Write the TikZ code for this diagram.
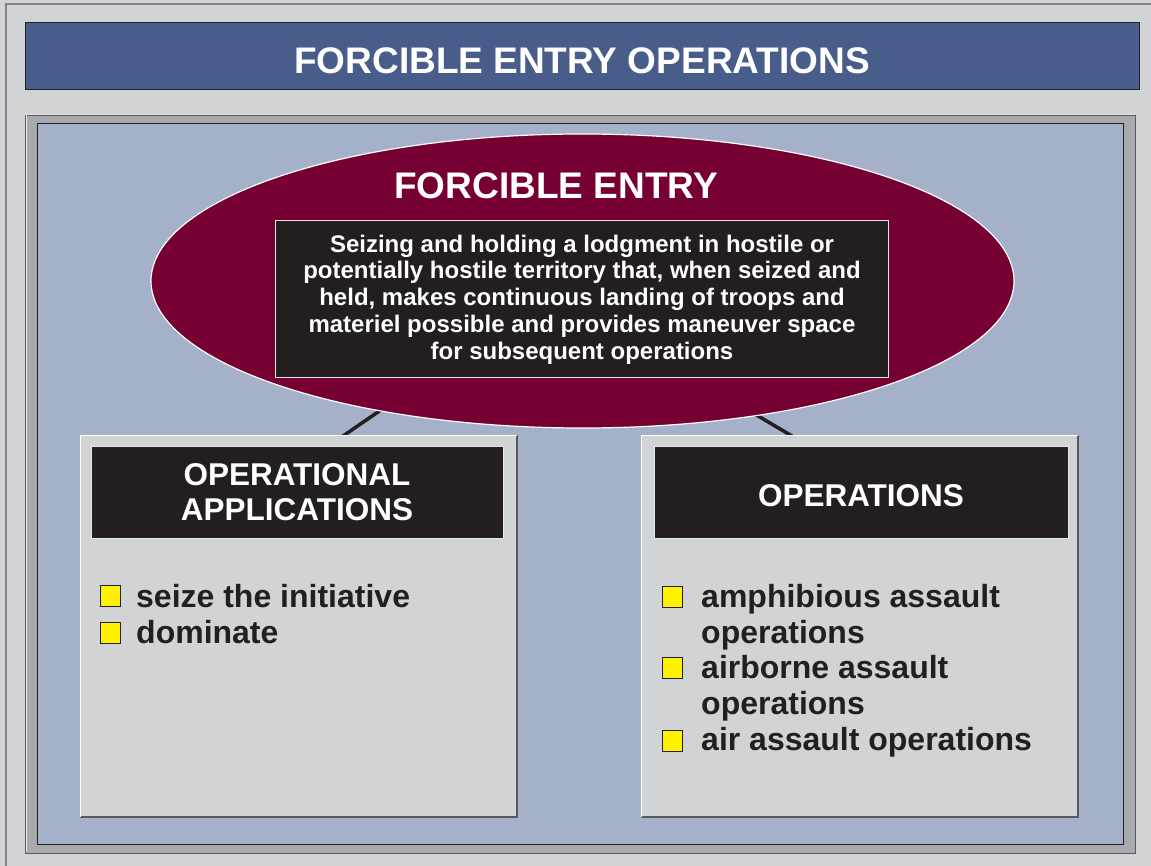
\documentclass[tikz,border=0pt]{standalone}
\usepackage{fontspec}
\setmainfont{Liberation Sans}
\usetikzlibrary{shapes.geometric}
\definecolor{pagebg}{HTML}{D1D3D4}
\definecolor{rimgray}{HTML}{808285}
\definecolor{titleblue}{HTML}{485D89}
\definecolor{framegray}{HTML}{A7A9AC}
\definecolor{fieldblue}{HTML}{A5B1C8}
\definecolor{wine}{HTML}{770033}
\definecolor{ink}{HTML}{231F20}
\definecolor{bullet}{HTML}{FFF200}
\definecolor{edgedark}{HTML}{58595B}
\definecolor{edgelight}{HTML}{E6E7E8}
\tikzset{
  panel/.style={anchor=north west, inner sep=0pt, outer sep=0pt},
  titlebar/.style={panel, fill=titleblue, draw=ink, line width=1pt},
  listbox/.style={panel, fill=pagebg},
  headbox/.style={panel, fill=ink, draw=edgelight, line width=0.8pt,
    minimum width=412pt, minimum height=92pt},
  headtext/.style={text=white, font=\bfseries\fontsize{31.5}{35}\selectfont, align=center},
  itemtext/.style={anchor=base west, text=ink, inner sep=0pt, align=left,
    font=\bfseries\fontsize{32}{35.7}\selectfont},
  chip/.style={panel, fill=bullet, draw=ink, line width=0.8pt,
    minimum width=20pt, minimum height=21pt},
  link/.style={draw=ink, line width=3.5pt},
}
\begin{document}
\begin{tikzpicture}[x=1pt,y=-1pt]
\useasboundingbox (0,0) rectangle (1151,866);
% page and its rim
\fill[pagebg] (0,0) rectangle (1151,866);
\draw[rimgray, line width=1.5pt] (6,870) -- (6,4) -- (1155,4);

% heading bar
\node[titlebar, minimum width=1114pt, minimum height=67pt] (bar) at (25,23) {};
\node[text=white, font=\bfseries\fontsize{37}{44}\selectfont] (bartext) at ([yshift=-4pt]bar.center) {FORCIBLE ENTRY OPERATIONS};

% framed field
\node[panel, fill=framegray, draw=edgedark, line width=1pt,
  minimum width=1110pt, minimum height=737pt] (frame) at (25,116) {};
\draw[edgelight, line width=1pt] (frame.south west) ++(1,-1) |- ([xshift=-1pt,yshift=1pt]frame.north east);
\node[panel, fill=fieldblue, draw=ink, line width=0.8pt,
  minimum width=1086pt, minimum height=721pt] (field) at (37,123) {};

% connectors, partly hidden behind the ellipse
\coordinate (lj) at (410,390);
\coordinate (rj) at (714,390);
\coordinate (lt) at (343,436);
\coordinate (rt) at (792,436);
\draw[link] (lj) -- (lt);
\draw[link] (rj) -- (rt);

% forcible entry ellipse
\node[ellipse, fill=wine, draw=white, line width=1.2pt, inner sep=0pt,
  minimum width=863pt, minimum height=294pt] (fe) at (582.5,281) {};
\node[text=white, font=\bfseries\fontsize{37}{44}\selectfont] (fetitle) at (556,186) {FORCIBLE ENTRY};
\node[panel, fill=ink, draw=edgelight, line width=0.8pt,
  minimum width=613pt, minimum height=157pt] (def) at (275,220) {};
\node[text=white, align=center, font=\bfseries\fontsize{24}{26.8}\selectfont] (deftext) at ([xshift=0.5pt,yshift=-1pt]def.center)
  {Seizing and holding a lodgment in hostile or\\
   potentially hostile territory that, when seized and\\
   held, makes continuous landing of troops and\\
   materiel possible and provides maneuver space\\
   for subsequent operations};

% left panel: operational applications
\node[listbox, minimum width=437pt, minimum height=382pt] (apps) at (80,435) {};
\draw[edgedark, line width=1.2pt] (apps.north east) |- (apps.south west);
\draw[white, line width=1pt] (apps.south west) |- (apps.north east);
\node[headbox] (appshead) at (91,446) {};
\node[headtext] (appstitle) at ([yshift=0pt]appshead.center) {OPERATIONAL\\APPLICATIONS};
\node[chip] (a1) at (100,585) {};
\node[itemtext] (a1t) at (136,607) {seize the initiative};
\node[chip] (a2) at (100,622) {};
\node[itemtext] (a2t) at (136,643) {dominate};

% right panel: operations
\node[listbox, minimum width=437pt, minimum height=382pt] (ops) at (641,435) {};
\draw[edgedark, line width=1.2pt] (ops.north east) |- (ops.south west);
\draw[white, line width=1pt] (ops.south west) |- (ops.north east);
\node[headbox, minimum width=414pt] (opshead) at (654,446) {};
\node[headtext] (opstitle) at ([yshift=-4pt]opshead.center) {OPERATIONS};
\node[chip] (o1) at (662,586) {};
\node[itemtext] (o1t) at (701,643) {amphibious assault\\operations};
\node[chip] (o2) at (662,657) {};
\node[itemtext] (o2t) at (701,714) {airborne assault\\operations};
\node[chip] (o3) at (662,730) {};
\node[itemtext] (o3t) at (701,750) {air assault operations};
\end{tikzpicture}
\end{document}
